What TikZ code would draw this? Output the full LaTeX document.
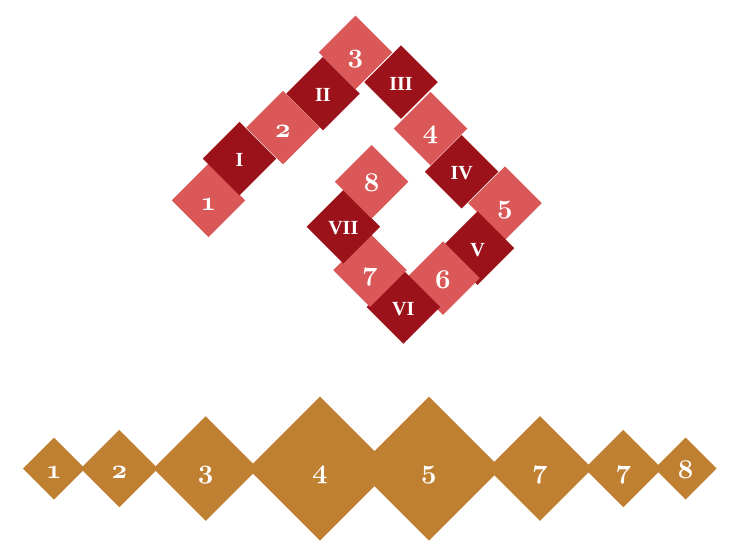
\documentclass[tikz,border=0pt]{standalone}
\usepackage{fontspec}
\newfontfamily\romfont{Liberation Serif}
\usetikzlibrary{shapes.geometric}
\definecolor{lite}{RGB}{218,88,88}
\definecolor{darkred}{RGB}{155,18,26}
\definecolor{gold}{RGB}{192,128,50}
\DeclareFontFamily{OML}{osfbold}{}
\DeclareFontShape{OML}{osfbold}{b}{n}{<-> cmmib10}{}
\newcommand\osdig[1]{{\usefont{OML}{osfbold}{b}{n}#1}}
\tikzset{
  tile/.style={diamond, aspect=1, inner sep=0pt, outer sep=0pt, text=white},
  numtile/.style={tile, fill=lite, minimum width=73.5pt, minimum height=73.5pt,
    font=\fontsize{27}{27}\selectfont, text height=20pt, text depth=0pt},
  romtile/.style={tile, fill=darkred, minimum width=73.5pt, minimum height=73.5pt,
    font=\romfont\bfseries\fontsize{20}{20}\selectfont, text height=16pt, text depth=0pt},
  goldtile/.style={tile, fill=gold, minimum width=#1, minimum height=#1,
    font=\fontsize{27}{27}\selectfont, text height=20pt, text depth=0pt},
}
\begin{document}
\begin{tikzpicture}[x=1pt,y=-1pt]
\useasboundingbox (0,0) rectangle (734,558);
% top chain
\node[numtile] (n1) at (208.5,200.3) {\osdig{1}};
\node[romtile] (r1) at (239.5,158.5) {I};
\node[numtile] (n2) at (283,127.5) {\osdig{2}};
\node[romtile] (r2) at (323,93.5) {II};
\node[numtile] (n3) at (355.5,52.3) {\osdig{3}};
\node[romtile] (r3) at (401,82) {III};
\node[numtile] (n4) at (430.5,128.5) {\osdig{4}};
\node[romtile] (r4) at (461.7,171.7) {IV};
\node[numtile] (n5) at (505,203) {\osdig{5}};
\node[romtile] (r5) at (477.5,248) {V};
\node[numtile] (n6) at (443,278) {\osdig{6}};
\node[romtile] (r6) at (403.3,307) {VI};
\node[numtile] (n7) at (370,270) {\osdig{7}};
\node[romtile] (r7) at (343.3,226.7) {VII};
\node[numtile] (n8) at (371.7,181.7) {\osdig{8}};
% bottom row
\node[goldtile=62pt]    (g1) at (54,468.5)    {\osdig{1}};
\node[goldtile=77.4pt]  (g2) at (119.3,468.5) {\osdig{2}};
\node[goldtile=104.6pt] (g3) at (205.7,468.5) {\osdig{3}};
\node[goldtile=144pt]   (g4) at (320,468.5)   {\osdig{4}};
\node[goldtile=144pt]   (g5) at (429,468.5)   {\osdig{5}};
\node[goldtile=104.6pt] (g6) at (540,468.5)   {\osdig{7}};
\node[goldtile=77.4pt]  (g7) at (623.3,468.5) {\osdig{7}};
\node[goldtile=62pt]    (g8) at (685.7,468.5) {\osdig{8}};
\end{tikzpicture}
\end{document}
